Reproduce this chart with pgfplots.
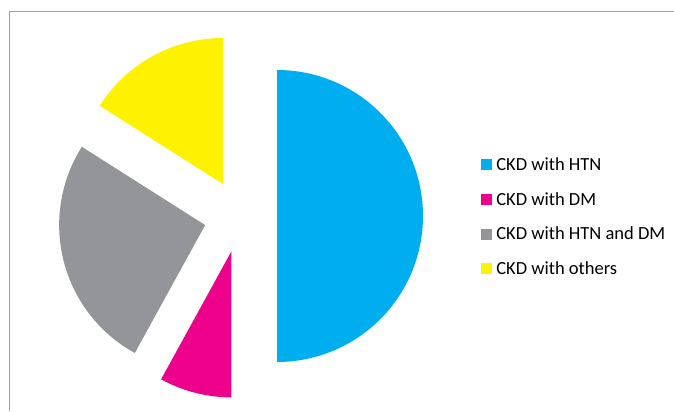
\documentclass[border=0pt]{standalone}
\usepackage{fontspec}
\setmainfont{Carlito}
\usepackage{pgfplots}
\usepackage{pgfplotstable}
\pgfplotsset{compat=1.18}
\definecolor{cyanp}{HTML}{00AEEF}
\definecolor{magentap}{HTML}{EC008C}
\definecolor{grayp}{HTML}{939598}
\definecolor{yellowp}{HTML}{FFF200}
\definecolor{framec}{HTML}{A0A0A0}

\pgfplotstableread{
label value
HTN 50
DM 8
HTNDM 26
Others 16
}\piedata

\begin{document}
\begin{tikzpicture}
\pgfplotstablegetelem{0}{value}\of\piedata \let\vA\pgfplotsretval
\pgfplotstablegetelem{1}{value}\of\piedata \let\vB\pgfplotsretval
\pgfplotstablegetelem{2}{value}\of\piedata \let\vC\pgfplotsretval
\pgfplotstablegetelem{3}{value}\of\piedata \let\vD\pgfplotsretval
\pgfmathsetmacro{\aA}{90}
\pgfmathsetmacro{\aB}{\aA-3.6*\vA}
\pgfmathsetmacro{\aC}{\aB-3.6*\vB}
\pgfmathsetmacro{\aD}{\aC-3.6*\vC}
\pgfmathsetmacro{\aE}{\aD-3.6*\vD}
\pgfmathsetmacro{\mA}{(\aA+\aB)/2}
\pgfmathsetmacro{\mB}{(\aB+\aC)/2}
\pgfmathsetmacro{\mC}{(\aC+\aD)/2}
\pgfmathsetmacro{\mD}{(\aD+\aE)/2}
\def\cx{240.5}\def\cy{195}\def\rr{146}\def\dd{36.5}
\begin{axis}[
  name=ax,
  x=1bp, y=1bp,
  xmin=0, xmax=674, ymin=0, ymax=411,
  scale only axis,
  hide axis,
  clip=false,
  legend cell align=left,
  legend image code/.code={\fill[#1] (0bp,1bp) rectangle (10bp,11bp);},
  legend style={
    at={(axis description cs:0.7136,0.6148)}, anchor=north west,
    draw=none, fill=none, inner sep=0pt, outer sep=0pt,
    row sep=22.7bp, column sep=5bp,
    font=\fontsize{18.5bp}{22bp}\selectfont,
    cells={anchor=base west},
    nodes={inner sep=0pt, outer sep=0pt, text height=12bp, text depth=0bp},
  },
]
\draw[framec, line width=1bp] (axis cs:9,0) -- (axis cs:9,399) -- (axis cs:674,399);
\fill[cyanp] (axis cs:{\cx+\dd*cos(\mA)},{\cy+\dd*sin(\mA)}) -- ++(\aA:\rr bp) arc[start angle=\aA, end angle=\aB, radius=\rr bp] -- cycle;
\fill[magentap] (axis cs:{\cx+\dd*cos(\mB)},{\cy+\dd*sin(\mB)}) -- ++(\aB:\rr bp) arc[start angle=\aB, end angle=\aC, radius=\rr bp] -- cycle;
\fill[grayp] (axis cs:{\cx+\dd*cos(\mC)},{\cy+\dd*sin(\mC)}) -- ++(\aC:\rr bp) arc[start angle=\aC, end angle=\aD, radius=\rr bp] -- cycle;
\fill[yellowp] (axis cs:{\cx+\dd*cos(\mD)},{\cy+\dd*sin(\mD)}) -- ++(\aD:\rr bp) arc[start angle=\aD, end angle=\aE, radius=\rr bp] -- cycle;
\addlegendimage{cyanp}\addlegendentry{CKD with HTN}
\addlegendimage{magentap}\addlegendentry{CKD with DM}
\addlegendimage{grayp}\addlegendentry{CKD with HTN and DM}
\addlegendimage{yellowp}\addlegendentry{CKD with others}
\end{axis}
\pgfresetboundingbox
\path (ax.south west) rectangle (ax.north east);
\end{tikzpicture}
\end{document}
